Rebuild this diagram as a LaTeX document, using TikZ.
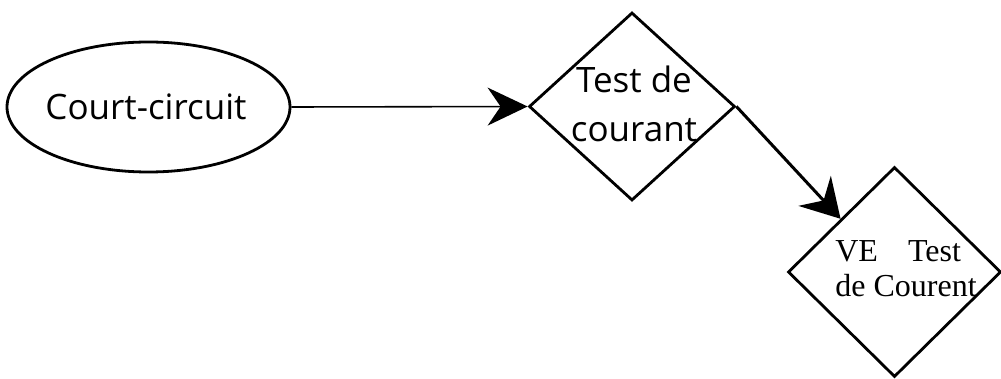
\documentclass[tikz,border=0pt]{standalone}
\usepackage{fontspec}
\setmainfont{Open Sans}
\newfontfamily\serifface{Liberation Serif}
\usetikzlibrary{shapes.geometric,arrows.meta}

\tikzset{
  shapeline/.style={draw=black, line width=2.8pt, inner sep=0pt},
  oval/.style={shapeline, ellipse, minimum width=283pt, minimum height=130pt},
  decision/.style={shapeline, diamond, aspect=1},
  sanstext/.style={inner sep=0pt, align=center, font=\fontsize{35}{49}\selectfont},
  seriftext/.style={inner sep=0pt, align=left, font=\serifface\fontsize{32}{35}\selectfont},
  flowthin/.style={line width=1.6pt, -{Stealth[length=40pt, width=38pt, inset=13pt]}},
  flowthick/.style={line width=3pt, -{Stealth[length=38pt, width=44pt, inset=13pt]}},
}

\begin{document}
\begin{tikzpicture}[x=1pt, y=-1pt]
  \useasboundingbox (0,0) rectangle (1001,379);

  % start event
  \node[oval] (start) at (148.5,107) {};
  \node[sanstext] (startlbl) at (146,106.5) {Court-circuit};

  % first current test
  \node[decision, minimum width=206pt, minimum height=188pt] (test) at (632,106.5) {};
  \node[sanstext] (testlbl) at (634,104) {Test de\\courant};

  % vehicle current test
  \node[decision, minimum width=213pt, minimum height=210pt] (vetest) at (894.5,272) {};
  \node[seriftext] (vetestlbl) at (906,268.5) {VE\hspace{30pt}Test\\de Courent};

  % connectors
  \draw[flowthin] (start.east) -- (test.west);
  \draw[flowthick] (test.east) -- (vetest.north west);
\end{tikzpicture}
\end{document}
